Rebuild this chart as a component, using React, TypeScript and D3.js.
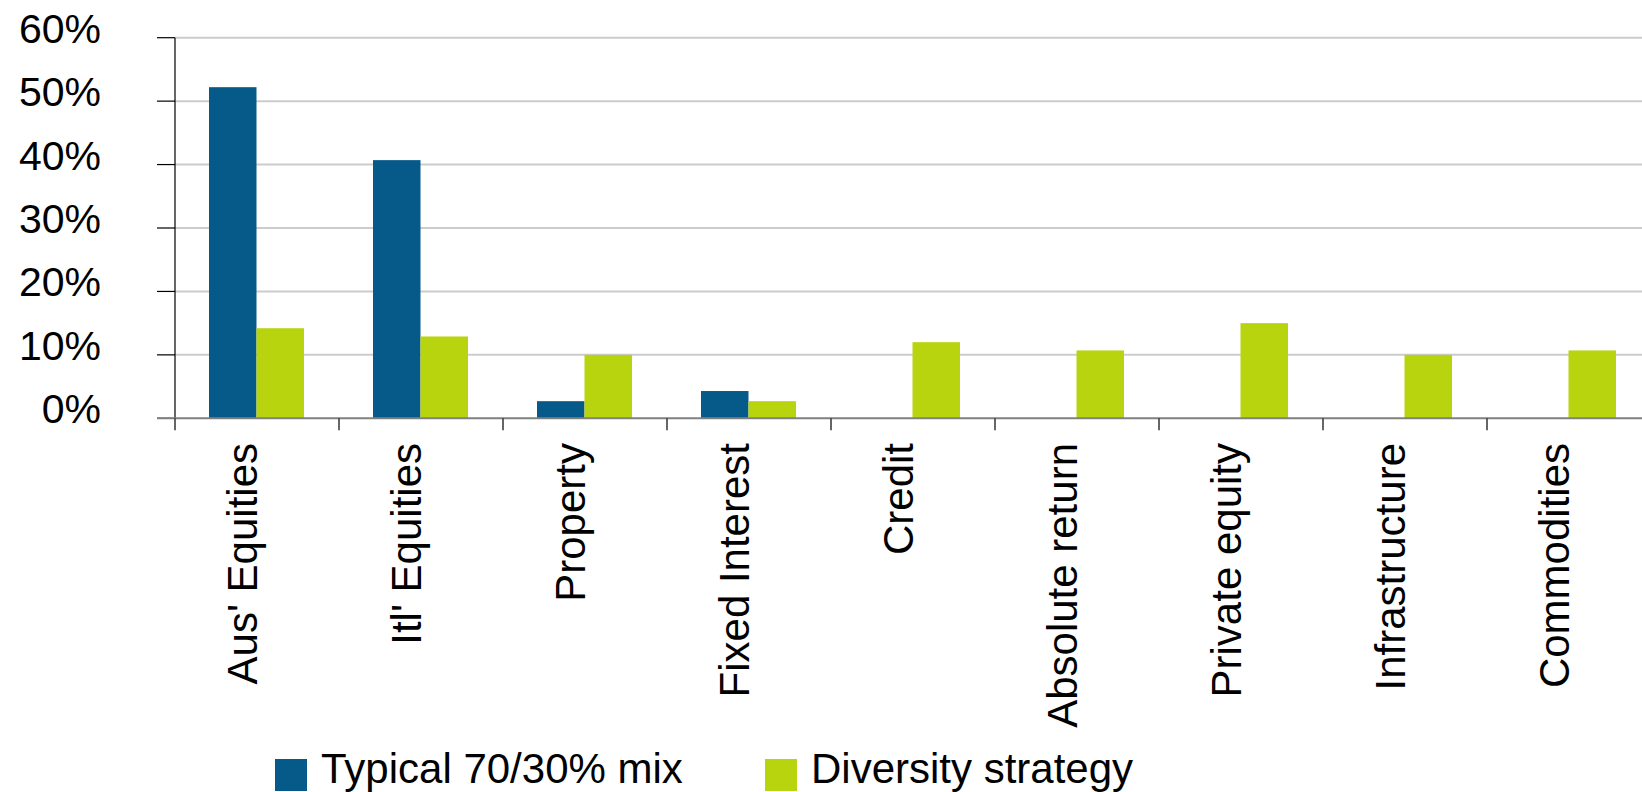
import { useEffect, useRef } from 'react';
import * as d3 from 'd3';

const CATEGORIES = [
  "Aus' Equities",
  "Itl' Equities",
  'Property',
  'Fixed Interest',
  'Credit',
  'Absolute return',
  'Private equity',
  'Infrastructure',
  'Commodities',
];
const SERIES = ['Typical 70/30% mix', 'Diversity strategy'];
const TYPICAL_MIX = [52.2, 40.7, 2.7, 4.3, 0, 0, 0, 0, 0];
const DIVERSITY = [14.2, 12.9, 10.0, 2.7, 12.0, 10.7, 15.0, 10.0, 10.7];
const Y_TICKS = [0, 10, 20, 30, 40, 50, 60];

const WIDTH = 1642;
const HEIGHT = 792;
const MARGIN = { top: 37.7, left: 175, bottom: 418.3 };
const BAND = 164;
const COLORS = ['#065A8A', '#B8D40E'];
const FONT = 'Liberation Sans, Arial, Helvetica, sans-serif';

export default function App() {
  const svgRef = useRef<SVGSVGElement | null>(null);

  useEffect(() => {
    const svgEl = svgRef.current;
    if (!svgEl) return;
    const svg = d3.select(svgEl);
    svg.selectAll('*').remove();

    const x0 = d3
      .scaleBand<string>()
      .domain(CATEGORIES)
      .range([MARGIN.left, MARGIN.left + BAND * CATEGORIES.length])
      .padding(0);
    const bw = x0.bandwidth();
    const x1 = d3
      .scaleBand<string>()
      .domain(SERIES)
      .range([bw / 2 - 48, bw / 2 + 47])
      .padding(0);
    const y = d3.scaleLinear().domain([0, 60]).range([MARGIN.bottom, MARGIN.top]);

    const right = WIDTH;

    // ---- grid ----
    svg
      .append('g')
      .selectAll('line')
      .data(Y_TICKS.filter((d) => d > 0))
      .join('line')
      .attr('x1', MARGIN.left)
      .attr('x2', right)
      .attr('y1', (d) => y(d))
      .attr('y2', (d) => y(d))
      .attr('stroke', '#cccccc')
      .attr('stroke-width', 2);

    // ---- y axis ----
    const yAxis = svg.append('g');
    yAxis
      .append('line')
      .attr('x1', MARGIN.left)
      .attr('x2', MARGIN.left)
      .attr('y1', MARGIN.top)
      .attr('y2', MARGIN.bottom)
      .attr('stroke', '#000000')
      .attr('stroke-width', 1.2);
    yAxis
      .selectAll('line.tick')
      .data(Y_TICKS)
      .join('line')
      .attr('class', 'tick')
      .attr('x1', MARGIN.left - 18)
      .attr('x2', MARGIN.left)
      .attr('y1', (d) => y(d))
      .attr('y2', (d) => y(d))
      .attr('stroke', '#000000')
      .attr('stroke-width', 1.2);
    yAxis
      .selectAll('text')
      .data(Y_TICKS)
      .join('text')
      .attr('x', 101)
      .attr('y', (d) => y(d) + 5)
      .attr('text-anchor', 'end')
      .attr('font-family', FONT)
      .attr('font-size', 41)
      .attr('fill', '#000000')
      .text((d) => `${d}%`);

    // ---- bars ----
    const seriesValues = [TYPICAL_MIX, DIVERSITY];
    SERIES.forEach((name, s) => {
      svg
        .append('g')
        .selectAll('rect')
        .data(CATEGORIES.map((c, i) => ({ c, v: seriesValues[s][i] })))
        .join('rect')
        .attr('x', (d) => (x0(d.c) ?? 0) + (x1(name) ?? 0))
        .attr('width', x1.bandwidth())
        .attr('y', (d) => y(d.v))
        .attr('height', (d) => y(0) - y(d.v))
        .attr('fill', COLORS[s]);
    });

    // ---- x axis ----
    const xAxis = svg.append('g');
    xAxis
      .append('line')
      .attr('x1', MARGIN.left - 18)
      .attr('x2', right)
      .attr('y1', MARGIN.bottom)
      .attr('y2', MARGIN.bottom)
      .attr('stroke', '#808080')
      .attr('stroke-width', 2);
    const boundaries = CATEGORIES.map((c) => x0(c) ?? 0);
    xAxis
      .selectAll('line.tick')
      .data(boundaries)
      .join('line')
      .attr('class', 'tick')
      .attr('x1', (d) => d)
      .attr('x2', (d) => d)
      .attr('y1', MARGIN.bottom)
      .attr('y2', MARGIN.bottom + 12)
      .attr('stroke', '#333333')
      .attr('stroke-width', 1.5);
    xAxis
      .selectAll('text')
      .data(CATEGORIES)
      .join('text')
      .attr('transform', (d) => `translate(${(x0(d) ?? 0) + bw / 2}, 443) rotate(-90)`)
      .attr('text-anchor', 'end')
      .attr('font-family', FONT)
      .attr('font-size', 42)
      .attr('fill', '#000000')
      .text((d) => d);

    // ---- legend ----
    const legendX = [275, 765];
    const legend = svg
      .append('g')
      .selectAll('g')
      .data(SERIES)
      .join('g')
      .attr('transform', (_, i) => `translate(${legendX[i]}, 759)`);
    legend
      .append('rect')
      .attr('width', 32)
      .attr('height', 32)
      .attr('fill', (_, i) => COLORS[i]);
    legend
      .append('text')
      .attr('x', 46)
      .attr('y', 24)
      .attr('font-family', FONT)
      .attr('font-size', 42)
      .attr('fill', '#000000')
      .text((d) => d);
  }, []);

  return (
    <svg
      ref={svgRef}
      width={WIDTH}
      height={HEIGHT}
      viewBox={`0 0 ${WIDTH} ${HEIGHT}`}
      style={{ position: 'absolute', top: 0, left: 0, display: 'block', background: '#ffffff' }}
    />
  );
}
